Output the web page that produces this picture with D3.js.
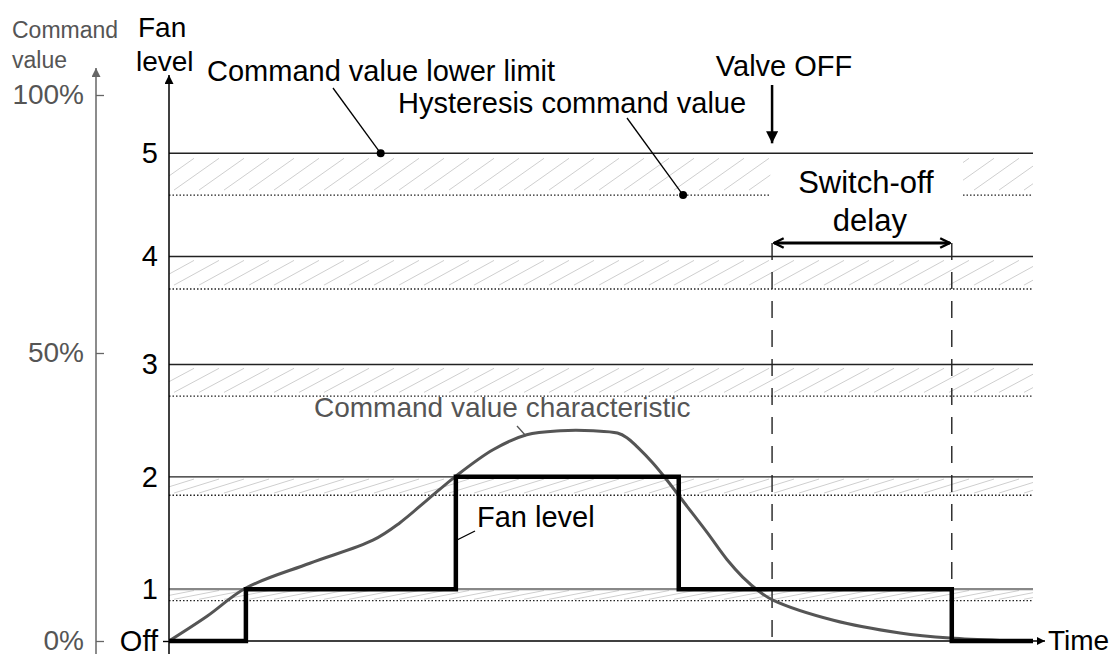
<!DOCTYPE html>
<html>
<head>
<meta charset="utf-8">
<script src="https://cdn.jsdelivr.net/npm/d3@7"></script>
<style>
  body { margin: 0; background: #fff; }
  svg { display: block; font-family: "Liberation Sans", Arial, sans-serif; }
</style>
</head>
<body>
<div class="svg-container"></div>
<script>
// Fan levels and their switching thresholds (command value in %)
var levelNames = ["Off", "1", "2", "3", "4", "5"];
var levelValue = [0, 9, 28.5, 48, 68.7, 88.7];
var hysteresisValue = [0, 7, 25.3, 42.5, 62.4, 80.6];

// command value axis
var cmdTicks = [0, 50, 100];
var cmdTickLabels = ["0%", "50%", "100%"];

// command value characteristic over time
var curveTime = [0, 4.4, 8.9, 16.3, 23.6, 26.7, 29.9, 33.1, 37.5, 41.4, 45.3, 49.1, 51.9, 53.0, 54.2, 56.0, 57.6, 60.0, 62.3, 64.6, 66.4, 68.4, 69.9, 76.9, 84.6, 90.4, 96.2, 100];
var curveValue = [0, 4.3, 9.2, 13.5, 17.5, 20.5, 24.5, 28.5, 33.2, 35.8, 36.5, 36.5, 36.1, 35.3, 33.7, 30.9, 28.0, 23.3, 18.8, 14.1, 11.1, 8.5, 7.1, 3.6, 1.4, 0.5, 0.1, 0];

// resulting fan level
var stepTime = [0, 8.9, 33.2, 59.0, 90.6, 100];
var stepLevel = [0, 1, 2, 1, 0, 0];

var valveOffTime = 69.8;
var delayEndTime = 90.6;
var labelGap = [69.6, 91.9];   // hatch left open behind "Switch-off delay"

var width = 1115, height = 654;
var margin = {top: 95, left: 169, right: 82, bottom: 13};

var svg = d3.select(".svg-container").append("svg")
    .attr("width", width)
    .attr("height", height);

/* PREPARATION */
var xScale = d3.scaleLinear().domain([0, 100]).range([margin.left, width - margin.right]);
// drawing is not quite linear: the 50% mark sits a bit high
var yScale = d3.scaleLinear().domain([0, 50, 100]).range([height - margin.bottom, 353, margin.top]);

var x0 = xScale(0), x1 = xScale(100), yBase = yScale(0);

var curveData = curveTime.map(function(t, i) { return {t: t, v: curveValue[i]}; });
var stepData = stepTime.map(function(t, i) { return {t: t, v: levelValue[stepLevel[i]]}; });

var defs = svg.append("defs");
function marker(id, color, w, h, open) {
    defs.append("marker")
        .attr("id", id)
        .attr("viewBox", "0 0 10 10")
        .attr("refX", open ? 9 : 10).attr("refY", 5)
        .attr("markerUnits", "userSpaceOnUse")
        .attr("markerWidth", w).attr("markerHeight", h)
        .attr("orient", "auto-start-reverse")
        .append("path")
        .attr("d", open ? "M1,1 L9,5 L1,9" : "M0,0 L10,5 L0,10 Z")
        .style("fill", open ? "none" : color)
        .style("stroke", color)
        .style("stroke-width", open ? 2 : 0);
}
marker("arrGray", "#666", 15, 9, false);
marker("arrBlack", "#000", 14, 9, false);
marker("arrValve", "#000", 12, 12, false);
marker("arrOpen", "#000", 12, 14, true);
marker("arrTime", "#000", 13, 8, false);

/* DRAWING */
// hatched hysteresis bands
for (var i = 1; i < levelValue.length; i++) {
    var bandTop = yScale(levelValue[i]), bandBot = yScale(hysteresisValue[i]);
    var bh = bandBot - bandTop;
    var parts = (i === 5) ? [[0, labelGap[0]], [labelGap[1], 100]] : [[0, 100]];
    var clip = defs.append("clipPath").attr("id", "band" + i);
    parts.forEach(function(p) {
        clip.append("rect")
            .attr("x", xScale(p[0])).attr("y", bandTop)
            .attr("width", xScale(p[1]) - xScale(p[0])).attr("height", bh);
    });
    var run = 45;
    var hx = d3.range(x0 - run, x1 + 5, 25);
    svg.append("g").attr("clip-path", "url(#band" + i + ")")
        .selectAll("line").data(hx).enter().append("line")
        .attr("x1", function(d) { return d; })
        .attr("y1", bandBot - bh * 0.12)
        .attr("x2", function(d) { return d + run; })
        .attr("y2", bandTop + bh * 0.12)
        .style("stroke", "#cfcfcf")
        .style("stroke-width", 1);

    parts.forEach(function(p) {
        svg.append("line")
            .attr("x1", xScale(p[0])).attr("x2", xScale(p[1]))
            .attr("y1", bandBot).attr("y2", bandBot)
            .style("stroke", "#222")
            .style("stroke-width", 1.3)
            .style("stroke-dasharray", "1.5,2");
    });

    svg.append("line")
        .attr("x1", x0).attr("x2", x1)
        .attr("y1", bandTop).attr("y2", bandTop)
        .style("stroke", i === 1 ? "#888" : "#222")
        .style("stroke-width", i === 1 ? 2.2 : 1.4);
}

// dashed switch-off delay markers
var delayY = 243;
[valveOffTime, delayEndTime].forEach(function(t) {
    svg.append("line")
        .attr("x1", xScale(t)).attr("x2", xScale(t))
        .attr("y1", delayY).attr("y2", yBase)
        .style("stroke", "#222")
        .style("stroke-width", 1.4)
        .style("stroke-dasharray", "17,12");
});

// command value axis (grey)
var cmdX = 96;
var cmdAxis = d3.axisLeft(yScale)
    .tickValues(cmdTicks)
    .tickFormat(function(d, i) { return cmdTickLabels[i]; })
    .tickSize(8)
    .tickPadding(4);
var gCmd = svg.append("g")
    .attr("transform", "translate(" + cmdX + ",0)")
    .call(cmdAxis);
gCmd.select(".domain").remove();
gCmd.selectAll(".tick line").attr("x2", 8).style("stroke", "#666").style("stroke-width", 1.3);
gCmd.selectAll(".tick text").style("fill", "#555").style("font-size", "28px")
    .style("font-family", "'Liberation Sans', Arial, sans-serif");
svg.append("line")
    .attr("x1", cmdX).attr("x2", cmdX)
    .attr("y1", height).attr("y2", 68)
    .style("stroke", "#666").style("stroke-width", 1.5)
    .attr("marker-end", "url(#arrGray)");

// fan level axis
var fanAxis = d3.axisLeft(yScale)
    .tickValues(levelValue)
    .tickFormat(function(d, i) { return levelNames[i]; })
    .tickSize(6)
    .tickPadding(5);
var gFan = svg.append("g")
    .attr("transform", "translate(" + x0 + ",0)")
    .call(fanAxis);
gFan.select(".domain").remove();
gFan.selectAll(".tick line").style("stroke", "#000").style("stroke-width", 1.4)
    .style("opacity", function(d, i) { return i === 0 ? 1 : 0; });
gFan.selectAll(".tick text").style("fill", "#000").style("font-size", "29px")
    .style("font-family", "'Liberation Sans', Arial, sans-serif");
svg.append("line")
    .attr("x1", x0).attr("x2", x0)
    .attr("y1", height).attr("y2", 75)
    .style("stroke", "#000").style("stroke-width", 1.5)
    .attr("marker-end", "url(#arrBlack)");

// time axis
svg.append("line")
    .attr("x1", x0).attr("x2", x1 + 12)
    .attr("y1", yBase).attr("y2", yBase)
    .style("stroke", "#000").style("stroke-width", 1.4)
    .attr("marker-end", "url(#arrTime)");

// command value characteristic
var line = d3.line()
    .x(function(d) { return xScale(d.t); })
    .y(function(d) { return yScale(d.v); })
    .curve(d3.curveCatmullRom.alpha(0.5));
svg.append("path")
    .datum(curveData)
    .attr("d", line)
    .style("fill", "none")
    .style("stroke", "#555")
    .style("stroke-width", 3);

// fan level steps
var step = d3.line()
    .x(function(d) { return xScale(d.t); })
    .y(function(d) { return yScale(d.v); })
    .curve(d3.curveStepAfter);
svg.append("path")
    .datum(stepData)
    .attr("d", step)
    .style("fill", "none")
    .style("stroke", "#000")
    .style("stroke-width", 4.5)
    .style("stroke-linejoin", "miter");

// texts
function label(x, y, txt, size, color, anchor) {
    return svg.append("text")
        .attr("x", x).attr("y", y)
        .attr("text-anchor", anchor || "start")
        .style("font-size", size + "px")
        .style("fill", color)
        .text(txt);
}
label(12, 38, "Command", 23, "#555");
label(12, 68, "value", 23, "#555");
label(138, 37, "Fan", 28, "#000");
label(136, 71, "level", 28, "#000");
label(x1 + 15, yBase + 9, "Time", 28, "#000");

// leaders with dots
function leader(xa, ya, xb, yb, color, dot) {
    svg.append("line")
        .attr("x1", xa).attr("y1", ya).attr("x2", xb).attr("y2", yb)
        .style("stroke", color).style("stroke-width", 1.3);
    if (dot) {
        svg.append("circle").attr("cx", xb).attr("cy", yb).attr("r", 4).style("fill", color);
    }
}
var limX = xScale(24.5), limY = yScale(levelValue[5]);
label(207, 81, "Command value lower limit", 29, "#000");
leader(333, 88, limX, limY, "#000", true);

var hysX = xScale(59.5), hysY = yScale(hysteresisValue[5]);
label(398, 113, "Hysteresis command value", 29, "#000");
leader(627, 118, hysX, hysY, "#000", true);

label(xScale(valveOffTime) + 12, 76, "Valve OFF", 29, "#000", "middle");
svg.append("line")
    .attr("x1", xScale(valveOffTime)).attr("x2", xScale(valveOffTime))
    .attr("y1", 85).attr("y2", yScale(levelValue[5]) - 10)
    .style("stroke", "#000").style("stroke-width", 2.5)
    .attr("marker-end", "url(#arrValve)");

var midDelay = (xScale(valveOffTime) + xScale(delayEndTime)) / 2;
label(midDelay + 4, 193, "Switch-off", 31, "#000", "middle");
label(midDelay + 8, 231, "delay", 31, "#000", "middle");
svg.append("line")
    .attr("x1", xScale(valveOffTime) + 2).attr("x2", xScale(delayEndTime) - 2)
    .attr("y1", delayY).attr("y2", delayY)
    .style("stroke", "#000").style("stroke-width", 3)
    .attr("marker-start", "url(#arrOpen)")
    .attr("marker-end", "url(#arrOpen)");

label(314, 417, "Command value characteristic", 28, "#555");
leader(517, 426, 526, 436, "#555", false);

label(477, 527, "Fan level", 29, "#000");
leader(475, 531, 457, 540, "#000", false);
</script>
</body>
</html>
